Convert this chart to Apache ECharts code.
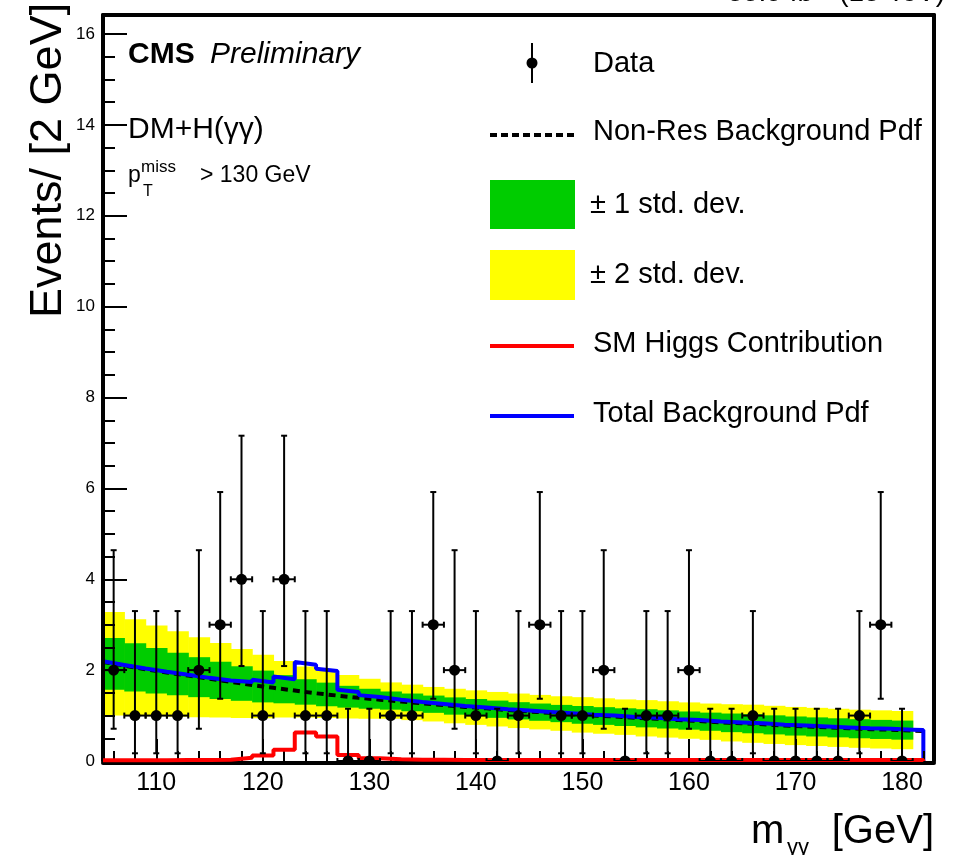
<!DOCTYPE html>
<html>
<head>
<meta charset="utf-8">
<script src="https://cdn.jsdelivr.net/npm/echarts@6/dist/echarts.min.js"></script>
<style>
  html, body { margin: 0; padding: 0; background: #fff; }
  #chart { width: 968px; height: 855px; }
</style>
</head>
<body>
<div id="chart"></div>
<script>
  // observed events, 2 GeV bins
  const dataMass = [106, 108, 110, 112, 114, 116, 118, 120, 122, 124, 126, 128, 130, 132, 134, 136, 138, 140, 142,
    144, 146, 148, 150, 152, 154, 156, 158, 160, 162, 164, 166, 168, 170, 172, 174, 176, 178, 180];
  const dataCounts = [2, 1, 1, 1, 2, 3, 4, 1, 4, 1, 1, 0, 0, 1, 1, 3, 2, 1, 0,
    1, 3, 1, 1, 2, 0, 1, 1, 2, 0, 0, 1, 0, 0, 0, 0, 1, 3, 0];
  // 68% poisson interval, indexed by count
  const poissonLow = [0, 0.17, 0.71, 1.37, 2.09];
  const poissonHigh = [1.15, 3.30, 4.64, 5.92, 7.16];

  // pdfs sampled on the bin edges
  const pdfEdges = [105, 107, 109, 111, 113, 115, 117, 119, 121, 123, 125, 127, 129, 131, 133, 135, 137, 139, 141, 143,
    145, 147, 149, 151, 153, 155, 157, 159, 161, 163, 165, 167, 169, 171, 173, 175, 177, 179, 181, 182];
  const nonResBkg = [2.18, 2.10, 2.02, 1.95, 1.88, 1.81, 1.74, 1.67, 1.61, 1.55, 1.49, 1.44, 1.39, 1.35, 1.31, 1.27, 1.23, 1.19, 1.16, 1.12,
    1.09, 1.06, 1.03, 1.00, 0.98, 0.95, 0.93, 0.90, 0.88, 0.85, 0.83, 0.81, 0.78, 0.76, 0.74, 0.72, 0.70, 0.69, 0.67, 0.66];
  // SM higgs per bin (bins start at pdfEdges)
  const smHiggs = [0.015, 0.015, 0.015, 0.02, 0.02, 0.03, 0.07, 0.12, 0.25, 0.63, 0.54, 0.13, 0.06, 0.04, 0.03, 0.025, 0.02, 0.02, 0.02,
    0.02, 0.02, 0.02, 0.02, 0.02, 0.02, 0.02, 0.02, 0.02, 0.02, 0.02, 0.02, 0.02, 0.02, 0.02, 0.02, 0.02, 0.02, 0.02, 0.02];
  // 1 std. dev. of the band, bins 105-181
  const bandSigma = [0.57, 0.53, 0.50, 0.47, 0.44, 0.41, 0.38, 0.35, 0.31, 0.28, 0.26, 0.24, 0.22, 0.20, 0.195, 0.19, 0.19, 0.19, 0.19,
    0.19, 0.19, 0.19, 0.195, 0.195, 0.195, 0.20, 0.20, 0.20, 0.20, 0.205, 0.21, 0.21, 0.21, 0.21, 0.21, 0.21, 0.21, 0.21];

  const xMajorTicks = [110, 120, 130, 140, 150, 160, 170, 180];
  const xMinorTicks = [106, 108, 112, 114, 116, 118, 122, 124, 126, 128, 132, 134, 136, 138, 142, 144, 146, 148,
    152, 154, 156, 158, 162, 164, 166, 168, 172, 174, 176, 178, 182];
  const yMajorTicks = [0, 2, 4, 6, 8, 10, 12, 14, 16];
  const yMinorTicks = [0.5, 1, 1.5, 2.5, 3, 3.5, 4.5, 5, 5.5, 6.5, 7, 7.5, 8.5, 9, 9.5, 10.5, 11, 11.5,
    12.5, 13, 13.5, 14.5, 15, 15.5];

  const font = '"Liberation Sans", Arial, Helvetica, sans-serif';

  const bandRows = bandSigma.map((s, i) => [pdfEdges[i], pdfEdges[i + 1], (nonResBkg[i] + nonResBkg[i + 1]) / 2, s]);
  const dataRows = dataMass.map((m, i) => [m, dataCounts[i], poissonLow[dataCounts[i]], poissonHigh[dataCounts[i]]]);
  const nonResLine = pdfEdges.map((x, i) => [x, nonResBkg[i]]);
  const totalLine = [];
  const higgsLine = [];
  smHiggs.forEach((h, i) => {
    totalLine.push([pdfEdges[i], nonResBkg[i] + h], [pdfEdges[i + 1], nonResBkg[i + 1] + h]);
    higgsLine.push([pdfEdges[i], h], [pdfEdges[i + 1], h]);
  });
  totalLine.push([182, 0]);
  higgsLine.push([182, 0]);

  function bandItem(k, color) {
    return function (params, api) {
      const mid = api.value(2), s = api.value(3);
      const p0 = api.coord([api.value(0), mid + k * s]);
      const p1 = api.coord([api.value(1), mid - k * s]);
      return {
        type: 'rect',
        shape: { x: p0[0], y: p0[1], width: p1[0] - p0[0] + 0.6, height: p1[1] - p0[1] },
        style: { fill: color }
      };
    };
  }

  function dataItem(params, api) {
    const x = api.value(0), n = api.value(1);
    const c = api.coord([x, n]);
    const lo = api.coord([x, api.value(2)]);
    const hi = api.coord([x, api.value(3)]);
    const l = api.coord([x - 1, n]);
    const r = api.coord([x + 1, n]);
    const st = { stroke: '#000', lineWidth: 2 };
    const cs = params.coordSys;
    return {
      type: 'group',
      clipPath: { type: 'rect', shape: { x: cs.x, y: cs.y, width: cs.width, height: cs.height } },
      children: [
        { type: 'line', shape: { x1: c[0], y1: lo[1], x2: c[0], y2: hi[1] }, style: st },
        { type: 'line', shape: { x1: c[0] - 3, y1: hi[1], x2: c[0] + 3, y2: hi[1] }, style: st },
        { type: 'line', shape: { x1: c[0] - 3, y1: lo[1], x2: c[0] + 3, y2: lo[1] }, style: st },
        { type: 'line', shape: { x1: l[0], y1: c[1], x2: r[0], y2: c[1] }, style: st },
        { type: 'line', shape: { x1: l[0], y1: c[1] - 3, x2: l[0], y2: c[1] + 3 }, style: st },
        { type: 'line', shape: { x1: r[0], y1: c[1] - 3, x2: r[0], y2: c[1] + 3 }, style: st },
        { type: 'circle', shape: { cx: c[0], cy: c[1], r: 5.5 }, style: { fill: '#000' } }
      ]
    };
  }

  function txt(text, x, y, size, extra) {
    return {
      type: 'text', x: x, y: y, z: 100,
      style: Object.assign({
        text: text, font: size + 'px ' + font, fill: '#000',
        align: 'left', verticalAlign: 'middle', textAlign: 'left', textVerticalAlign: 'middle'
      }, extra || {})
    };
  }

  const axisLine = { show: true, onZero: false, lineStyle: { color: '#000', width: 4 } };
  const noLine = { show: false, onZero: false };

  const chart = echarts.init(document.getElementById('chart'));
  chart.setOption({
    animation: false,
    backgroundColor: '#fff',
    grid: { left: 103, right: 34, top: 15, bottom: 94, containLabel: false, outerBoundsMode: 'none' },
    xAxis: [
      {
        type: 'value', min: 105, max: 183, position: 'bottom', offset: 2, z: 5,
        axisLine: axisLine,
        axisTick: { inside: true, length: 24, customValues: xMajorTicks, lineStyle: { color: '#000', width: 2 } },
        axisLabel: { customValues: xMajorTicks, fontSize: 25, fontFamily: font, color: '#000', margin: 8 },
        splitLine: { show: false }
      },
      {
        type: 'value', min: 105, max: 183, position: 'bottom', offset: 2, z: 5,
        axisLine: noLine,
        axisTick: { inside: true, length: 12, customValues: xMinorTicks, lineStyle: { color: '#000', width: 2 } },
        axisLabel: { show: false },
        splitLine: { show: false }
      },
      {
        type: 'value', min: 105, max: 183, position: 'top', z: 5,
        axisLine: axisLine, axisTick: { show: false }, axisLabel: { show: false }, splitLine: { show: false }
      }
    ],
    yAxis: [
      {
        type: 'value', min: 0, max: 16.42, position: 'left', z: 5,
        axisLine: axisLine,
        axisTick: { inside: true, length: 24, customValues: yMajorTicks, lineStyle: { color: '#000', width: 2 } },
        axisLabel: { customValues: yMajorTicks, fontSize: 17, fontFamily: font, color: '#000', margin: 8 },
        splitLine: { show: false }
      },
      {
        type: 'value', min: 0, max: 16.42, position: 'left', z: 5,
        axisLine: noLine,
        axisTick: { inside: true, length: 12, customValues: yMinorTicks, lineStyle: { color: '#000', width: 2 } },
        axisLabel: { show: false },
        splitLine: { show: false }
      },
      {
        type: 'value', min: 0, max: 16.42, position: 'right', z: 5,
        axisLine: axisLine, axisTick: { show: false }, axisLabel: { show: false }, splitLine: { show: false }
      }
    ],
    series: [
      { type: 'custom', name: '± 2 std. dev.', z: 1, renderItem: bandItem(2, '#ffff00'), data: bandRows },
      { type: 'custom', name: '± 1 std. dev.', z: 2, renderItem: bandItem(1, '#00cc00'), data: bandRows },
      {
        type: 'line', name: 'Non-Res Background Pdf', z: 3, data: nonResLine, showSymbol: false,
        lineStyle: { color: '#000', width: 4, type: [7, 5] }
      },
      {
        type: 'line', name: 'Total Background Pdf', z: 4, data: totalLine, showSymbol: false,
        lineStyle: { color: '#0000ff', width: 4 }
      },
      {
        type: 'line', name: 'SM Higgs Contribution', z: 12, data: higgsLine, showSymbol: false,
        lineStyle: { color: '#ff0000', width: 4 }
      },
      { type: 'custom', name: 'Data', z: 15, renderItem: dataItem, data: dataRows }
    ],
    graphic: {
      elements: [
        txt('35.9 fb⁻¹ (13 TeV)', 945, -7, 28, { align: 'right', textAlign: 'right' }),
        Object.assign(txt('Events/ [2 GeV]', 49, 318, 45), { rotation: Math.PI / 2 }),
        txt('m', 751, 832, 40),
        txt('γγ', 787, 848, 22),
        txt('[GeV]', 934, 832, 40, { align: 'right', textAlign: 'right' }),

        txt('CMS', 128, 55, 30, { font: 'bold 30px ' + font }),
        txt('Preliminary', 210, 55, 30, { font: 'italic 30px ' + font }),
        txt('DM+H(γγ)', 128, 130, 30),
        txt('p', 128, 176, 23),
        txt('miss', 141, 167, 17),
        txt('T', 143, 192, 16),
        txt('> 130 GeV', 200, 176, 23),

        { type: 'line', z: 100, shape: { x1: 532, y1: 43, x2: 532, y2: 83 }, style: { stroke: '#000', lineWidth: 2 } },
        { type: 'circle', z: 100, shape: { cx: 532, cy: 63, r: 5.5 }, style: { fill: '#000' } },
        txt('Data', 593, 64, 29),
        { type: 'line', z: 100, shape: { x1: 490, y1: 135, x2: 574, y2: 135 }, style: { stroke: '#000', lineWidth: 4, lineDash: [7, 4] } },
        txt('Non-Res Background Pdf', 593, 132, 29),
        { type: 'rect', z: 100, shape: { x: 490, y: 180, width: 85, height: 49 }, style: { fill: '#00cc00' } },
        txt('± 1 std. dev.', 590, 205, 29),
        { type: 'rect', z: 100, shape: { x: 490, y: 250, width: 85, height: 50 }, style: { fill: '#ffff00' } },
        txt('± 2 std. dev.', 590, 275, 29),
        { type: 'line', z: 100, shape: { x1: 490, y1: 346, x2: 574, y2: 346 }, style: { stroke: '#ff0000', lineWidth: 4 } },
        txt('SM Higgs Contribution', 593, 344, 29),
        { type: 'line', z: 100, shape: { x1: 490, y1: 416, x2: 574, y2: 416 }, style: { stroke: '#0000ff', lineWidth: 4 } },
        txt('Total Background Pdf', 593, 414, 29)
      ]
    }
  });
</script>
</body>
</html>
